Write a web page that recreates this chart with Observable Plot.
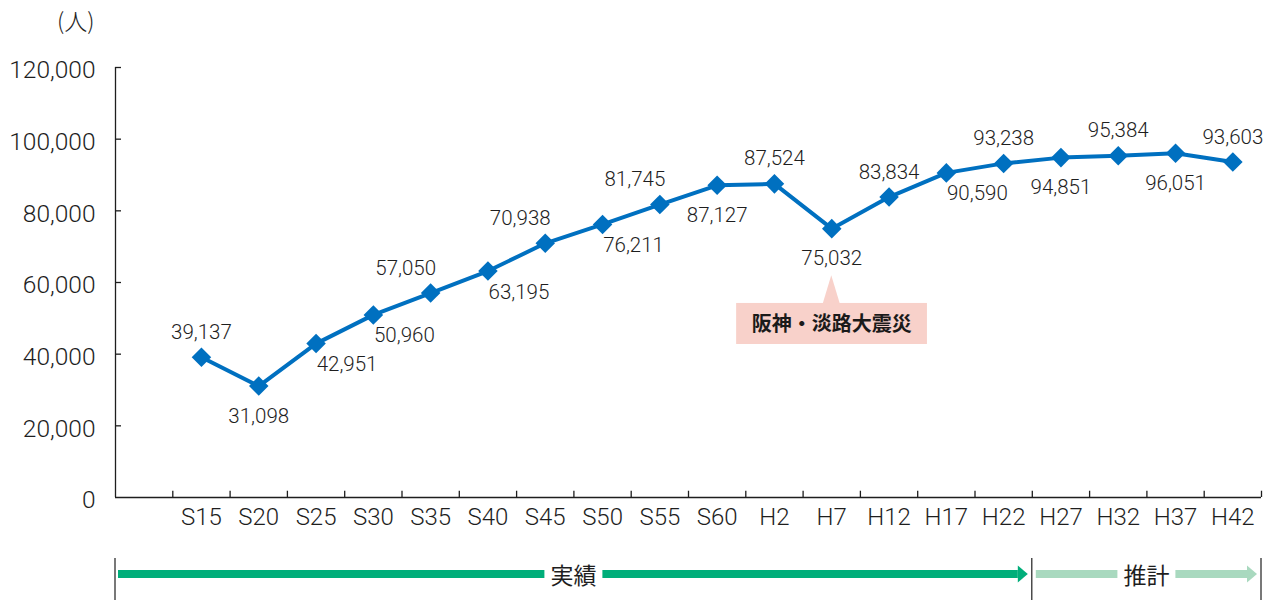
<!DOCTYPE html>
<html><head><meta charset="utf-8">
<script src="https://cdn.jsdelivr.net/npm/d3@7"></script>
<script src="https://cdn.jsdelivr.net/npm/@observablehq/plot@0.6"></script>
<style>
body{margin:0;background:#fff;}
svg{display:block}
</style>
</head><body><div id="chart"></div>
<script>
const categories = ["S15","S20","S25","S30","S35","S40","S45","S50","S55","S60","H2","H7","H12","H17","H22","H27","H32","H37","H42"];
const values = [39137,31098,42951,50960,57050,63195,70938,76211,81745,87127,87524,75032,83834,90590,93238,94851,95384,96051,93603];
const labelPlacement = ["t","b","br","br","tl","br","tl","br","tl","b","t","b","t","br","t","b","t","b","t"];
const yTicks = [0,20000,40000,60000,80000,100000,120000];
const yUnit = "(人)";
const eventLabel = "阪神・淡路大震災";
const eventCategory = "H7";
const periods = [
  {label:"実績", from:"S15", to:"H22", color:"#00ae7a"},
  {label:"推計", from:"H27", to:"H42", color:"#a9d9bf"}
];

const NUM_FONT = "Roboto,'Noto Sans CJK JP',sans-serif";
const JP_FONT = "'Noto Sans CJK JP','Noto Sans',sans-serif";
const BLUE = "#0070c0";
const INK = "#1e1e1e";

const data = categories.map((c,i)=>({cat:c, pos:i+1.5, value:values[i], place:labelPlacement[i]}));
const offs = {t:[0,-25], b:[0,30], br:[31,21], tl:[-25,-25]};
const nSlots = categories.length + 1;
const idx = c => categories.indexOf(c);
const evPos = idx(eventCategory) + 1.5;

function timeline(index, scales) {
  const x = scales.x, y0 = scales.y(0);
  const cy = y0 + 77;
  const g = d3.create("svg:g");
  const bounds = [0, idx(periods[1].from)+1, nSlots];
  for (const b of bounds) {
    g.append("line").attr("x1", x(b)).attr("x2", x(b)).attr("y1", y0+61).attr("y2", y0+110)
      .attr("stroke", INK).attr("stroke-width", 1.2);
  }
  periods.forEach((p,k) => {
    const s = k===0 ? 0 : idx(p.from)+1;
    const e = idx(p.to)+2;
    const x0 = x(s) + (k===0 ? 3 : 4);
    const tip = x(e) - 4;
    const headStart = tip - 10;
    const mid = (x(s)+x(e))/2;
    const half = 29;
    g.append("rect").attr("x", x0).attr("y", cy-4).attr("width", mid-half-x0).attr("height", 8).attr("fill", p.color);
    g.append("rect").attr("x", mid+half).attr("y", cy-4).attr("width", headStart-(mid+half)).attr("height", 8).attr("fill", p.color);
    g.append("path").attr("d", `M${headStart},${cy-8.5}L${tip},${cy}L${headStart},${cy+8.5}Z`).attr("fill", p.color);
    g.append("text").attr("x", mid).attr("y", cy).attr("text-anchor","middle").attr("dominant-baseline","central")
      .attr("font-family", JP_FONT).attr("font-size", 23).attr("fill", INK).text(p.label);
  });
  return g.node();
}

const labelMarks = Object.keys(offs).map(k =>
  Plot.text(data.filter(d => d.place === k), {
    x: "pos", y: "value", text: d => d3.format(",")(d.value),
    dx: offs[k][0], dy: offs[k][1], fontSize: 20.5, fontWeight: 300, fill: INK
  })
);

const plot = Plot.plot({
  width: 1271,
  height: 600,
  marginLeft: 115,
  marginRight: 10,
  marginTop: 67,
  marginBottom: 103,
  style: {fontFamily: NUM_FONT, color: INK, background: "#fff", overflow: "visible"},
  x: {domain: [0, nSlots], axis: null},
  y: {domain: [0, 120000], axis: null},
  marks: [
    // callout
    Plot.rect([eventLabel], {x1: evPos - 1.66, x2: evPos + 1.67, y1: 42700, y2: 54150, fill: "#f8d1ca"}),
    Plot.areaY([{x: evPos-0.15, y1: 53900, y2: 53900},{x: evPos, y1: 53900, y2: 61900},{x: evPos+0.15, y1: 53900, y2: 53900}],
      {x: "x", y1: "y1", y2: "y2", fill: "#f8d1ca", curve: "linear"}),
    Plot.text([eventLabel], {x: evPos, y: 48300, text: d=>d, fontFamily: JP_FONT, fontWeight: "bold", fontSize: 20, fill: "#1a1a1a"}),
    // axes
    Plot.ruleX([0], {y1: 0, y2: 120000, stroke: INK, strokeWidth: 1.3}),
    Plot.ruleY([0], {x1: 0, x2: nSlots, stroke: INK, strokeWidth: 1.3}),
    Plot.ruleY(yTicks.slice(1), {x1: 0, x2: 0.105, stroke: INK, strokeWidth: 1.3}),
    Plot.ruleX(d3.range(1, nSlots+1), {y1: 0, y2: 1750, stroke: INK, strokeWidth: 1.3}),
    Plot.text(yTicks, {x: 0, y: d=>d, text: d=>d3.format(",")(d), textAnchor: "end", dx: -20, dy: 3, fontSize: 24.5, fontWeight: 300, fill: INK}),
    Plot.text([yUnit], {x: 0, y: 120000, text: d=>d, textAnchor: "end", dx: -21, dy: -45, fontSize: 23, fontFamily: JP_FONT, fontWeight: 300, fill: INK}),
    Plot.text(data, {x: "pos", frameAnchor: "bottom", text: "cat", dy: 27, fontSize: 24, fontWeight: 300, fill: INK}),
    // series
    Plot.line(data, {x: "pos", y: "value", stroke: BLUE, strokeWidth: 4}),
    Plot.dot(data, {x: "pos", y: "value", symbol: "diamond2", r: 8.8, fill: BLUE, stroke: "none"}),
    ...labelMarks,
    timeline
  ]
});
document.getElementById("chart").appendChild(plot);
</script>
</body></html>
